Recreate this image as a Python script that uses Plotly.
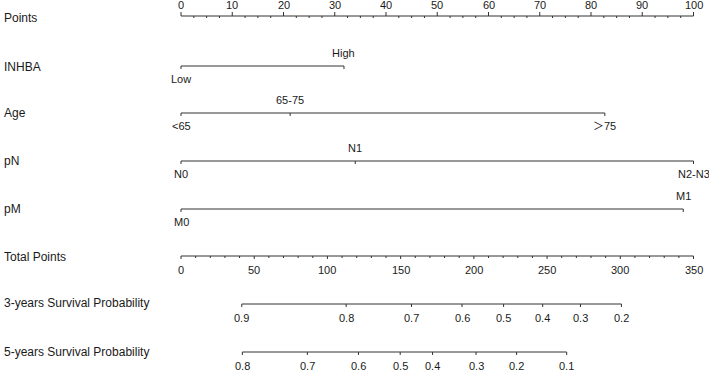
import plotly.graph_objects as go

# ---------------- data ----------------
points_major = list(range(0, 101, 10))
points_minor = [i * 2.5 for i in range(41)]

inhba_levels = ["Low", "High"]
inhba_points = [0, 31.8]
age_levels = ["<65", "65-75", "＞75"]
age_points = [0, 21.3, 82.7]
pn_levels = ["N0", "N1", "N2-N3"]
pn_points = [0, 34.0, 100]
pm_levels = ["M0", "M1"]
pm_points = [0, 98.0]

total_major = list(range(0, 351, 50))
total_minor = list(range(0, 351, 10))

surv3_labels = ["0.9", "0.8", "0.7", "0.6", "0.5", "0.4", "0.3", "0.2"]
surv3_total = [41.5, 112.8, 157.4, 191.9, 220.3, 247.0, 272.8, 300.8]
surv5_labels = ["0.8", "0.7", "0.6", "0.5", "0.4", "0.3", "0.2", "0.1"]
surv5_total = [41.9, 86.3, 121.2, 149.7, 171.8, 201.5, 229.2, 263.4]

row_names = ["Points", "INHBA", "Age", "pN", "pM", "Total Points",
             "3-years Survival Probability", "5-years Survival Probability"]

# ---------------- layout constants ----------------
W, H = 709, 371
X0_PX, X100_PX = 181.0, 693.5
ppu = (X100_PX - X0_PX) / 100.0
xmin = -X0_PX / ppu
xmax = xmin + W / ppu
TOTAL_MAX = 350.0
scale2 = TOTAL_MAX / 100.0

row_y = [16, 66, 113, 161, 209, 256, 304, 352]
label_y = [18, 67, 113, 161, 209, 257, 303, 352]
LINE = "#333333"
TEXT = "#1a1a1a"
FONT = "Arial, Liberation Sans, Noto Sans CJK SC, sans-serif"

fig = go.Figure()
annotations = []


def seg_trace(xs_pairs, ys_pairs, axis="x"):
    xs, ys = [], []
    for (xa, xb), (ya, yb) in zip(xs_pairs, ys_pairs):
        xs += [xa, xb, None]
        ys += [ya, yb, None]
    fig.add_trace(go.Scatter(x=xs, y=ys, mode="lines", xaxis=axis, yaxis="y",
                             line=dict(color=LINE, width=1), hoverinfo="skip",
                             showlegend=False))


def text(x, y, s, axis="x", size=11, anchor="center"):
    annotations.append(dict(x=x, y=y, xref=axis, yref="y", text=s, showarrow=False,
                            xanchor=anchor, yanchor="middle",
                            font=dict(family=FONT, size=size, color=TEXT)))


# Points axis
y = row_y[0]
segs_x = [(points_major[0], points_major[-1])]
segs_y = [(y, y)]
for v in points_major:
    segs_x.append((v, v)); segs_y.append((y, y - 4))
for v in points_minor:
    if v not in points_major:
        segs_x.append((v, v)); segs_y.append((y, y + 2))
seg_trace(segs_x, segs_y)
for v in points_major:
    text(v, y - 11, str(v))

# categorical rows
cat_rows = [(inhba_levels, inhba_points), (age_levels, age_points),
            (pn_levels, pn_points), (pm_levels, pm_points)]
for i, (levels, pts) in enumerate(cat_rows):
    y = row_y[i + 1]
    sx = [(min(pts), max(pts))]
    sy = [(y, y)]
    for p in pts:
        sx.append((p, p)); sy.append((y, y + 3))
    seg_trace(sx, sy)
    for j, (lab, p) in enumerate(zip(levels, pts)):
        dy = 13 if j % 2 == 0 else -13
        text(p, y + dy, lab)

# Total points axis (xaxis2 scale 0-350)
y = row_y[5]
sx = [(total_major[0], total_major[-1])]
sy = [(y, y)]
for v in total_minor:
    if v in total_major:
        sx.append((v, v)); sy.append((y, y + 3))
    else:
        sx.append((v, v)); sy.append((y, y + 2))
seg_trace(sx, sy, axis="x2")
for v in total_major:
    text(v, y + 14, str(v), axis="x2")

# survival scales
for k, (labs, tps) in enumerate([(surv3_labels, surv3_total), (surv5_labels, surv5_total)]):
    y = row_y[6 + k]
    sx = [(min(tps), max(tps))]
    sy = [(y, y)]
    for t in tps:
        sx.append((t, t)); sy.append((y, y + 3))
    seg_trace(sx, sy, axis="x2")
    for lab, t in zip(labs, tps):
        text(t, y + 14, lab, axis="x2")

# row names
for name, ly in zip(row_names, label_y):
    annotations.append(dict(x=2 / W, y=ly, xref="paper", yref="y", text=name,
                            showarrow=False, xanchor="left", yanchor="middle",
                            font=dict(family=FONT, size=12, color=TEXT)))

fig.update_layout(
    width=W, height=H, margin=dict(l=0, r=0, t=0, b=0),
    paper_bgcolor="white", plot_bgcolor="white",
    xaxis=dict(range=[xmin, xmax], visible=False, fixedrange=True),
    xaxis2=dict(range=[xmin * scale2, xmax * scale2], overlaying="x", visible=False,
                fixedrange=True),
    yaxis=dict(range=[H, 0], visible=False, fixedrange=True),
    annotations=annotations,
    showlegend=False,
)

fig.write_html("out.html", config={"displayModeBar": False})

# remove default page margin so the figure sits at the window's top-left
with open("out.html", "r", encoding="utf-8") as f:
    html = f.read()
html = html.replace("<head>", "<head><style>html,body{margin:0;padding:0;overflow:hidden;}</style>", 1)
with open("out.html", "w", encoding="utf-8") as f:
    f.write(html)
